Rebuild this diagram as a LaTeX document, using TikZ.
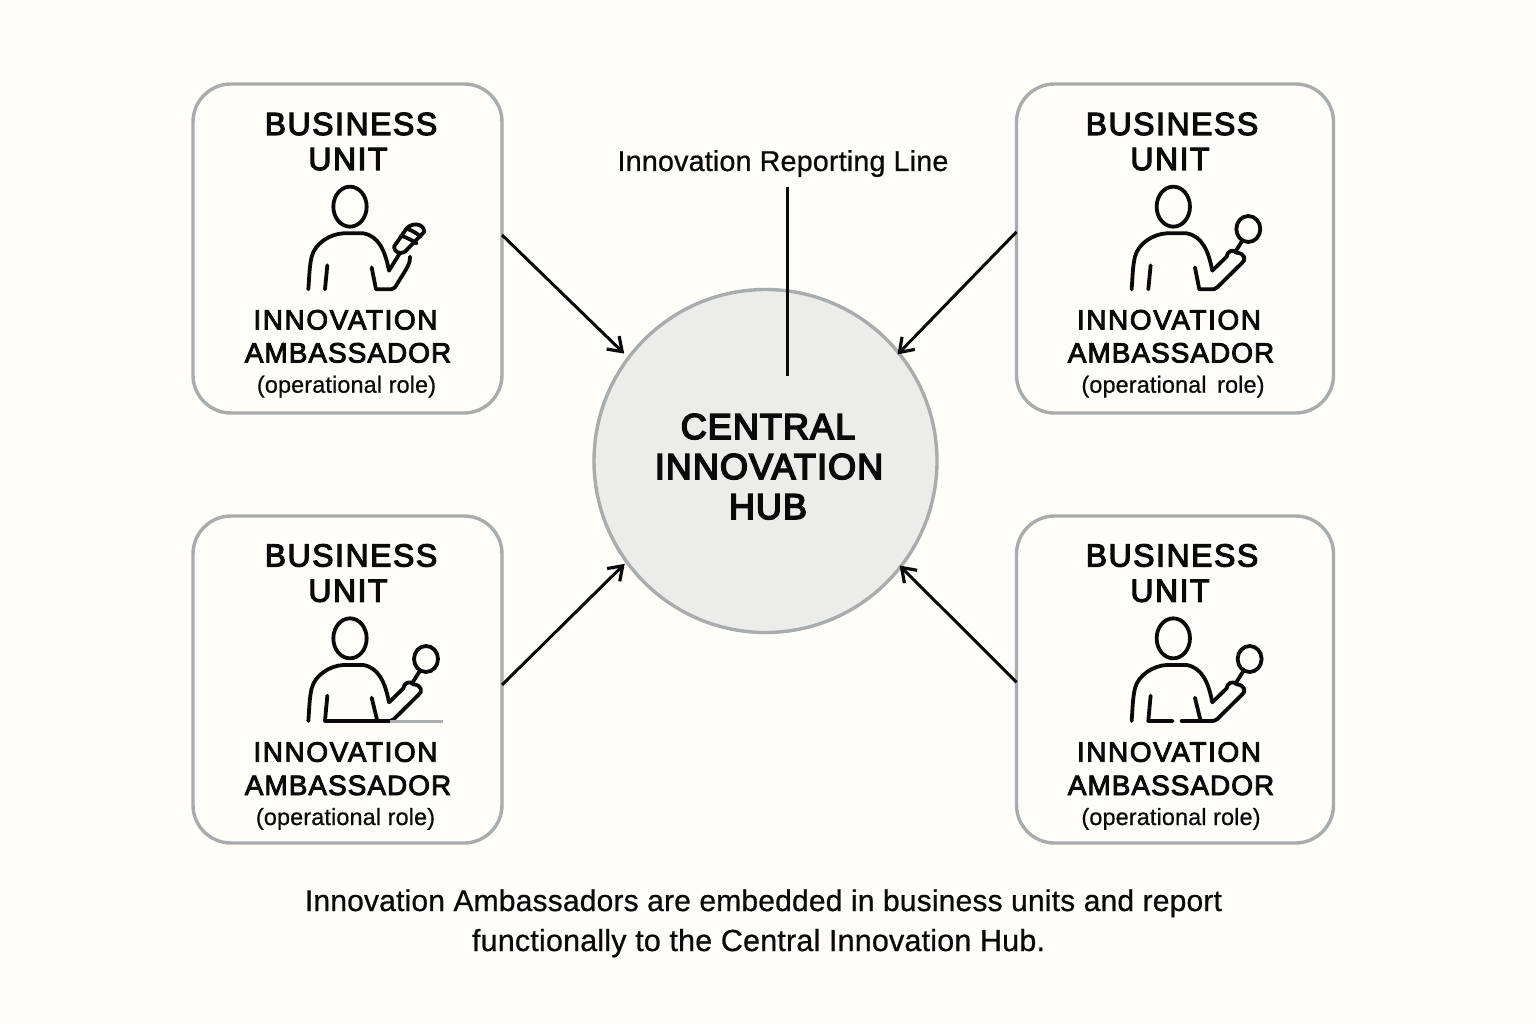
\documentclass[tikz,border=0pt]{standalone}
\usepackage{fontspec}
\usetikzlibrary{arrows.meta}
\setmainfont{Liberation Sans}
\newfontfamily\headfont[LetterSpace=4.8,FakeBold=3.6]{Liberation Sans}
\newfontfamily\roleheadfont[LetterSpace=3.5,FakeBold=3.2]{Liberation Sans}
\newfontfamily\innofont[LetterSpace=5.5,FakeBold=3.2]{Liberation Sans}
\newfontfamily\hubfont[LetterSpace=3,FakeBold=4.5]{Liberation Sans}
\newfontfamily\plainfont[LetterSpace=0.6,FakeBold=0.7]{Liberation Sans}
\definecolor{paper}{HTML}{FEFDFA}
\definecolor{edgegray}{HTML}{A9ACAD}
\definecolor{hubfill}{HTML}{ECECEA}
\definecolor{ink}{HTML}{0A0A0A}
\tikzset{
  unitbox/.style={draw=edgegray,line width=3.4pt,fill=paper,rounded corners=38pt,inner sep=0pt,outer sep=0pt},
  hubnode/.style={circle,draw=edgegray,line width=3.4pt,fill=hubfill,minimum size=343pt,inner sep=0pt,outer sep=0pt},
  unithead/.style={anchor=base,inner sep=0pt,text=ink,font=\headfont\fontsize{32}{32}\selectfont},
  rolehead/.style={anchor=base,inner sep=0pt,text=ink,font=\roleheadfont\fontsize{28}{28}\selectfont},
  innohead/.style={anchor=base,inner sep=0pt,text=ink,font=\innofont\fontsize{28}{28}\selectfont},
  rolenote/.style={anchor=base,inner sep=0pt,text=ink,font=\plainfont\fontsize{23.4}{23.4}\selectfont},
  hubtext/.style={anchor=base,inner sep=0pt,text=ink,font=\hubfont\fontsize{36}{36}\selectfont},
  linelabel/.style={anchor=base,inner sep=0pt,text=ink,font=\plainfont\fontsize{28.7}{28.7}\selectfont},
  captiontext/.style={anchor=base,inner sep=0pt,text=ink,font=\plainfont\fontsize{30}{30}\selectfont},
  captionlast/.style={anchor=base,inner sep=0pt,text=ink,font=\plainfont\fontsize{30.5}{30.5}\selectfont},
  reportarrow/.style={draw=ink,line width=3pt,-{Straight Barb[length=13pt,width=18pt,line width=3.2pt]}},
  iconline/.style={draw=ink,line width=3.8pt,line cap=round,line join=round},
  iconframe/.style={x=0.33333pt,y=-0.33333pt},
}
\newcommand{\iconhead}{\draw[iconline] (480,380) ellipse [x radius=50,y radius=60];}
\newcommand{\iconshoulder}{\draw[iconline] (355,628) .. controls (358,590) and (358,560) .. (365,530) .. controls (375,490) and (420,462) .. (460,460) -- (520,460) .. controls (565,468) and (585,510) .. (597,572);}
\newcommand{\iconglass}[2]{%
  \draw[iconline] (#1,#2) ellipse [x radius=36,y radius=39];
  \draw[iconline] (#1-18,#2+35) -- (#1-40,#2+70);}
\newcommand{\iconhand}{\draw[iconline] (597,572) -- (640,530) .. controls (640,515) and (660,505) .. (670,518) .. controls (695,520) and (700,540) .. (685,550) -- (612,622) .. controls (605,628) and (600,628) .. (595,628);}
\begin{document}
\begin{tikzpicture}[x=1pt,y=-1pt]
\useasboundingbox (0,0) rectangle (1536,1024);
\fill[paper] (0,0) rectangle (1536,1024);

% boxes
\node[unitbox,minimum width=309pt,minimum height=329pt] (b1) at (347.5,248.5) {};
\node[unitbox,minimum width=317pt,minimum height=329pt] (b2) at (1175,248.5) {};
\node[unitbox,minimum width=309pt,minimum height=327pt] (b3) at (347.5,679.5) {};
\node[unitbox,minimum width=317pt,minimum height=327pt] (b4) at (1175,679.5) {};

% hub
\node[hubnode] (hub) at (765.5,461) {};
\node[hubtext] (hub1) at (768,439) {CENTRAL};
\node[hubtext] (hub2) at (769,479) {INNOVATION};
\node[hubtext] (hub3) at (768,519) {HUB};

% connectors
\draw[reportarrow,shorten >=6pt] (b1.5.7) -- (hub.143.2);
\draw[reportarrow,shorten >=-1.9pt] (b2.174.8) -- (hub.39.75);
\draw[reportarrow,shorten >=2.9pt] (b3.-2.6) -- (hub.216.75);
\draw[reportarrow,shorten >=-1.5pt] (b4.181.1) -- (hub.-38.5);

% reporting line
\node[linelabel] (rl) at (783,171) {Innovation Reporting Line};
\coordinate (rlend) at (787,376);
\draw[draw=ink,line width=3pt] (rlend |- 0,187) -- (rlend);

% box 1 text
\node[unithead] (b1a) at (351,135) {BUSINESS};
\node[unithead] (b1b) at (348,170) {UNIT};
\node[innohead] (b1c) at (345.5,329.5) {INNOVATION};
\node[rolehead] (b1d) at (348,362.5) {AMBASSADOR};
\node[rolenote] (b1e) at (346.5,392.7) {(operational role)};
% box 2 text
\node[unithead] (b2a) at (1172,135) {BUSINESS};
\node[unithead] (b2b) at (1170,170) {UNIT};
\node[innohead] (b2c) at (1169,329.5) {INNOVATION};
\node[rolehead] (b2d) at (1171,362.5) {AMBASSADOR};
\node[rolenote] (b2e) at (1173,392.7) {(operational\hspace{4pt} role)};
% box 3 text
\node[unithead] (b3a) at (351,566.5) {BUSINESS};
\node[unithead] (b3b) at (348,601.7) {UNIT};
\node[innohead] (b3c) at (345.5,761.7) {INNOVATION};
\node[rolehead] (b3d) at (348,795) {AMBASSADOR};
\node[rolenote] (b3e) at (345.5,825) {(operational role)};
% box 4 text
\node[unithead] (b4a) at (1172,566.5) {BUSINESS};
\node[unithead] (b4b) at (1170,601.7) {UNIT};
\node[innohead] (b4c) at (1169,761.7) {INNOVATION};
\node[rolehead] (b4d) at (1171,795) {AMBASSADOR};
\node[rolenote] (b4e) at (1171,825) {(operational role)};

% caption
\node[captiontext] (cap1) at (763.5,911) {Innovation Ambassadors are embedded in business units and report};
\node[captionlast] (cap2) at (758.5,951) {functionally to the Central Innovation Hub.};

% icon 1: holding a striped handle
\begin{scope}[shift={(190,80)},iconframe]
  \iconhead \iconshoulder
  \draw[iconline] (412,556) -- (405,628);
  \draw[iconline] (597,572) -- (628,522);
  \draw[iconline] (612,500) -- (650,445) .. controls (665,428) and (700,428) .. (703,455) -- (645,515) .. controls (630,525) and (612,515) .. (612,500);
  \draw[iconline] (633,468) .. controls (645,470) and (665,480) .. (680,490);
  \draw[iconline] (655,448) .. controls (668,452) and (680,460) .. (692,470);
  \draw[iconline] (660,530) .. controls (662,550) and (650,565) .. (615,622) .. controls (608,628) and (604,628) .. (598,628) -- (558,628) -- (545,562);
\end{scope}
% icon 2
\begin{scope}[shift={(1013.3,80)},iconframe]
  \iconhead \iconshoulder \iconhand
  \iconglass{705}{447}
  \draw[iconline] (412,556) -- (405,628);
  \draw[iconline] (595,628) -- (558,628) -- (545,562);
\end{scope}
% icon 3
\begin{scope}[shift={(190,511.67)},iconframe]
  \iconhead \iconshoulder \iconhand
  \iconglass{708}{442}
  \draw[edgegray,line width=3pt] (600,628) -- (760,628);
  \draw[iconline] (412,552) -- (405,628) -- (595,628);
  \draw[iconline] (545,558) -- (562,628);
\end{scope}
% icon 4
\begin{scope}[shift={(1013.3,511.67)},iconframe]
  \iconhead \iconshoulder \iconhand
  \iconglass{709}{442}
  \draw[iconline] (412,552) -- (405,628) -- (478,628);
  \draw[iconline] (505,628) -- (595,628);
  \draw[iconline] (545,558) -- (562,628);
\end{scope}
\end{tikzpicture}
\end{document}
